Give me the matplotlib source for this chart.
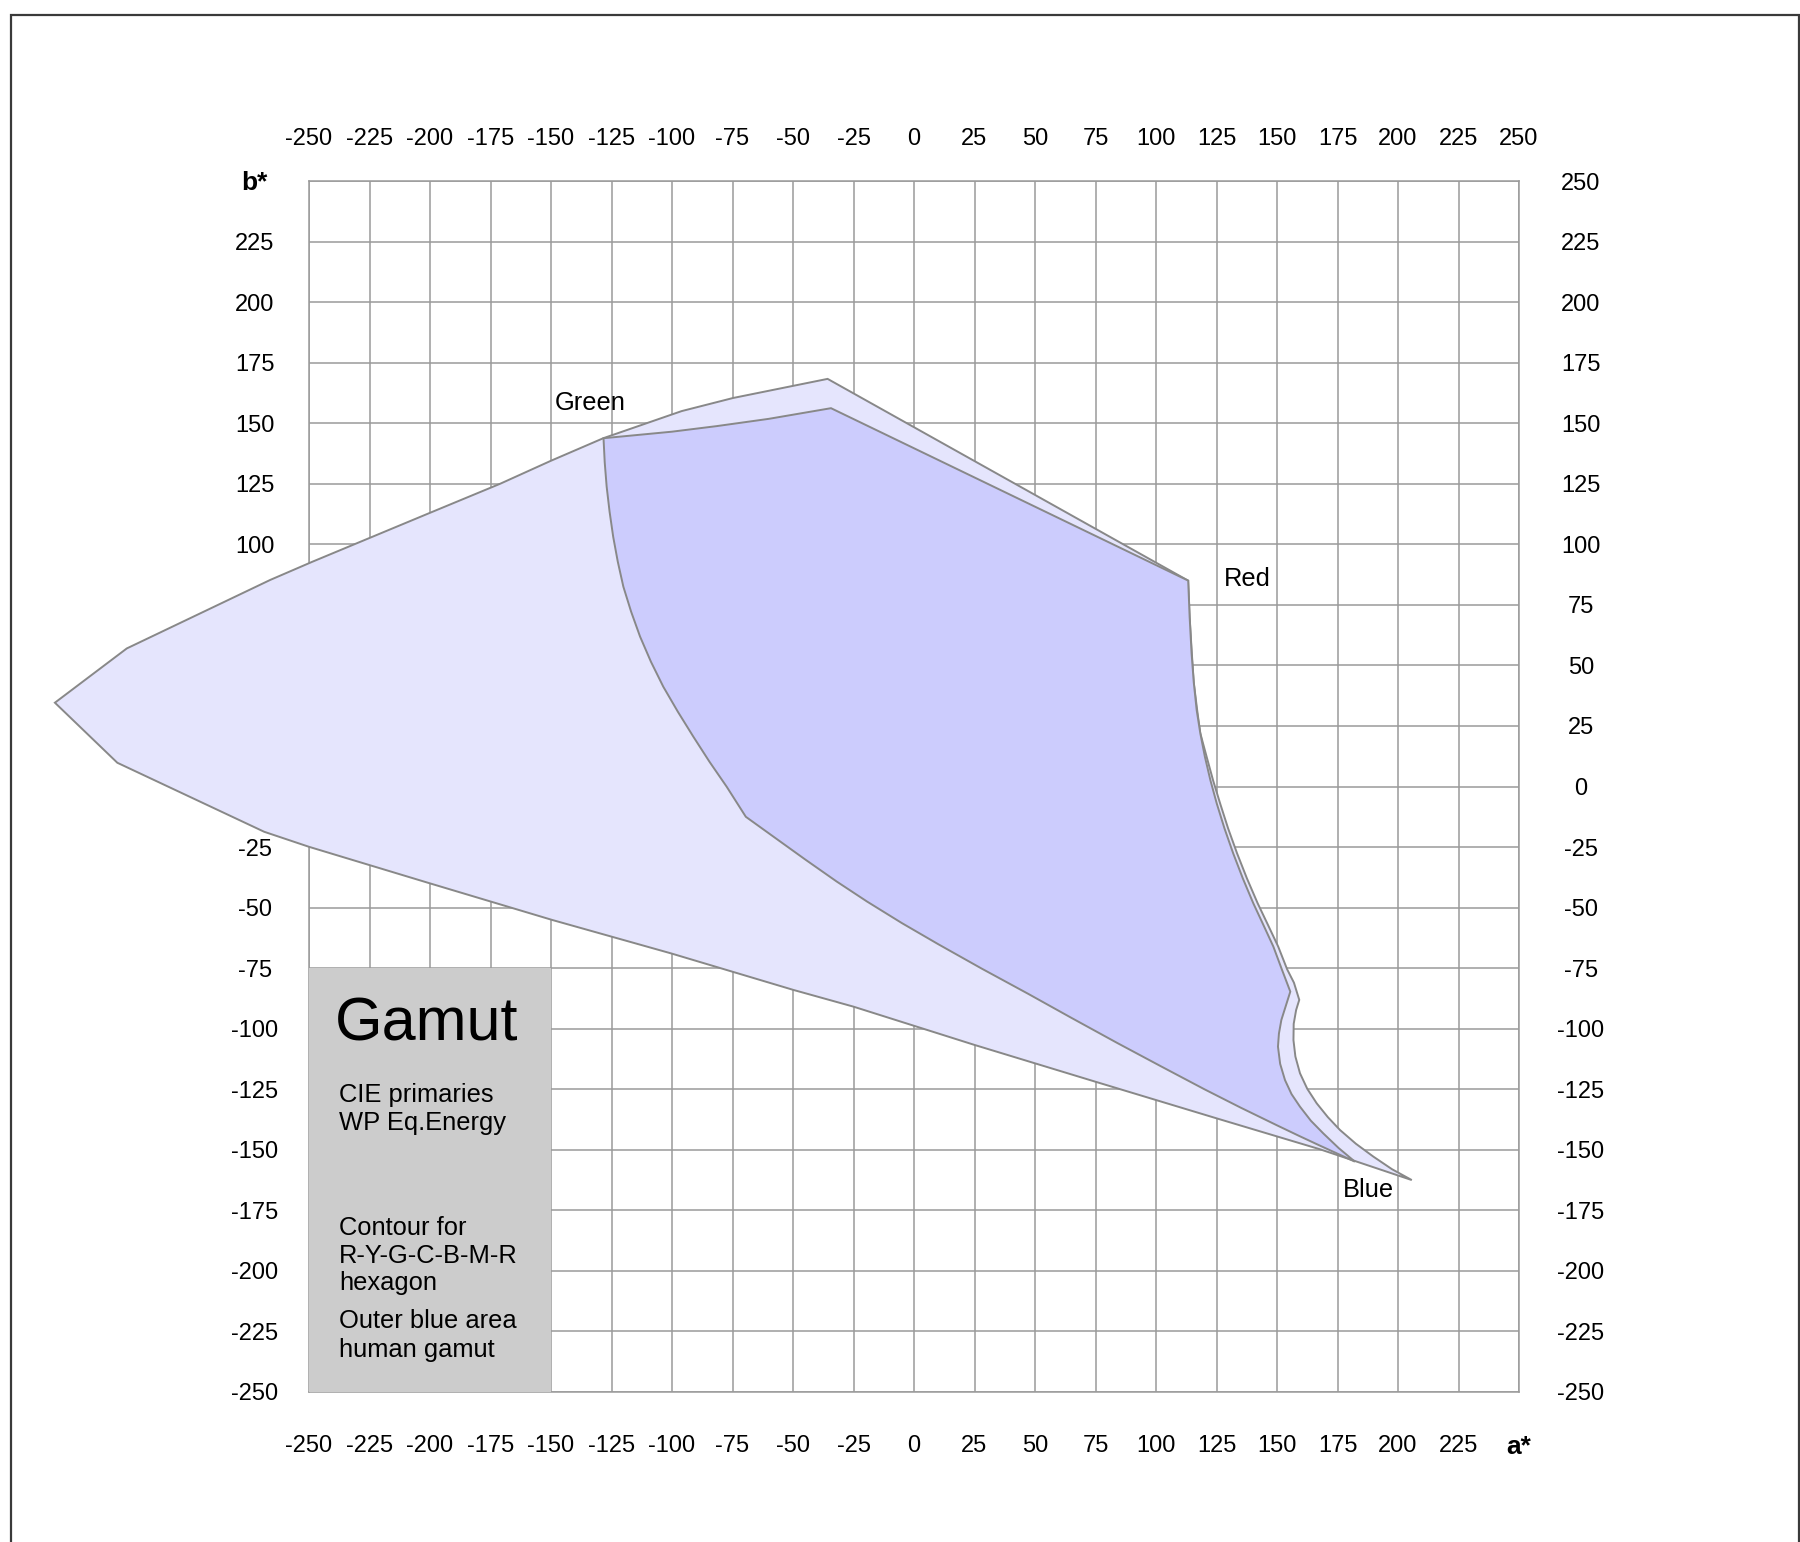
import matplotlib.pyplot as plt
from matplotlib.patches import Polygon, Rectangle

plt.rcParams['font.family'] = ['Liberation Sans', 'DejaVu Sans']

ticks = list(range(-250, 251, 25))
tick_labels = [str(t) for t in ticks]

# human gamut outline (a*, b*)
outer_a = [205.7, 197.5, 189.8, 182.6, 176.0, 171.0, 166.4, 162.5, 159.5, 157.6,
           156.8, 156.9, 157.9, 159.2, 157.0, 154.2, 150.5, 146.2, 142.0, 137.6,
           133.5, 129.8, 126.5, 123.6, 121.0, 118.3, 117.0, 115.6, 114.8, 113.9,
           113.3, -35.7, -74.8, -96.0, -128.4, -150.0, -171.0, -200.0, -248.6, -266.0,
           -325.3, -355.0, -329.2, -268.5, -250.0, -200.0, -149.5, -100.4, -49.8, -25.0,
           25.0, 75.0, 125.0, 167.8]
outer_b = [-162.5, -158.0, -152.8, -147.5, -141.8, -136.5, -130.8, -124.8, -118.4, -111.5,
           -104.7, -98.0, -92.3, -88.1, -81.0, -75.5, -66.1, -57.0, -48.2, -38.0,
           -27.6, -17.3, -7.0, 2.5, 12.0, 22.0, 31.6, 43.0, 55.0, 70.0,
           85.0, 168.3, 160.4, 155.0, 143.8, 134.5, 125.0, 113.0, 92.8, 85.3,
           57.0, 34.6, 9.8, -18.7, -24.9, -40.0, -55.1, -68.9, -84.0, -90.9,
           -106.7, -121.9, -137.0, -149.8]

# contour of the R-Y-G-C-B-M-R hexagon
inner_a = [-128.3, -100.0, -81.5, -60.0, -34.3, 113.3, 113.9, 114.7, 115.6, 116.8,
           118.3, 120.2, 122.5, 125.1, 128.3, 131.9, 135.9, 140.2, 144.3, 148.5,
           152.0, 155.5, 151.8, 150.8, 150.4, 151.3, 153.3, 156.0, 159.5, 164.0,
           169.1, 175.5, 182.2, 175.0, 168.0, 159.0, 150.0, 135.0, 120.0, 102.0,
           84.0, 65.0, 47.0, 28.0, 10.0, -5.0, -19.4, -32.0, -45.0, -56.7,
           -69.5, -77.4, -84.5, -91.2, -97.6, -103.6, -108.7, -113.2, -116.9, -120.1,
           -122.4, -124.3, -125.8, -127.0, -127.8]
inner_b = [143.8, 146.5, 148.8, 151.8, 156.2, 85.0, 70.0, 55.0, 43.0, 31.6,
           22.0, 12.3, 2.5, -7.0, -17.3, -27.6, -38.0, -48.2, -57.0, -66.1,
           -75.5, -84.7, -96.4, -102.0, -107.4, -114.5, -121.2, -127.0, -132.2, -138.0,
           -143.2, -149.3, -154.9, -151.6, -148.4, -144.2, -139.9, -132.6, -125.0, -115.5,
           -105.9, -95.5, -85.5, -75.2, -65.1, -56.4, -47.5, -39.2, -30.1, -21.7,
           -12.5, -0.1, 10.2, 20.6, 30.9, 41.2, 51.5, 61.9, 72.2, 82.5,
           92.8, 103.1, 113.5, 123.8, 133.8]

corner_names = ["Green", "Red", "Blue"]
corner_a = [-148.3, 128.1, 177.4]
corner_b = [155.5, 82.8, -169.4]

box_a = [-250, -150]
box_b = [-250, -75]
notes = ["CIE primaries", "WP Eq.Energy", "Contour for", "R-Y-G-C-B-M-R",
         "hexagon", "Outer blue area", "human gamut"]
notes_b = [-130.1, -141.8, -185.2, -196.9, -207.9, -223.7, -235.4]

fig = plt.figure(figsize=(18, 15.42), dpi=100)
ax = fig.add_axes([309 / 1800, 1 - 1392 / 1542, 1210 / 1800, 1211 / 1542])

# cadre autour de la page
fig.patches.append(Rectangle((11 / 1800, -0.05), 1788 / 1800, 1 - 15 / 1542 + 0.05,
                             transform=fig.transFigure, fill=False,
                             ec='#3a3a3a', lw=1.6))

ax.set_xlim(-250, 250)
ax.set_ylim(-250, 250)
ax.set_xticks(ticks)
ax.set_yticks(ticks)
ax.grid(True, color='#9a9a9a', lw=1.1)
ax.set_axisbelow(True)
for s in ax.spines.values():
    s.set_color('#9a9a9a')
    s.set_linewidth(1.1)
    s.set_zorder(0.6)

ax.add_patch(Polygon(list(zip(outer_a, outer_b)), closed=True, fc='#e5e5fd',
                     ec='#888888', lw=1.4, clip_on=False, zorder=2))
ax.add_patch(Polygon(list(zip(inner_a, inner_b)), closed=True, fc='#ccccfd',
                     ec='#888888', lw=1.4, clip_on=False, zorder=3))

for name, a, b in zip(corner_names, corner_a, corner_b):
    ax.text(a, b, name, fontsize=18.4, ha='left', va='baseline', zorder=5)

# cartouche
ax.add_patch(Rectangle((box_a[0], box_b[0]), box_a[1] - box_a[0], box_b[1] - box_b[0],
                       fc='#cccccc', ec='none', zorder=4))
ax.text(-239.3, -104.9, "Gamut", fontsize=44, ha='left', va='baseline', zorder=5)
for txt, b in zip(notes, notes_b):
    ax.text(-237.5, b, txt, fontsize=18.4, ha='left', va='baseline', zorder=5)

# étiquettes des axes
bottom_labels = tick_labels[:-1] + ["a*"]
left_labels = tick_labels[:-1] + ["b*"]
ax.set_xticklabels(bottom_labels)
ax.set_yticklabels(left_labels)
ax.tick_params(axis='x', length=0, pad=31, labelsize=17)
ax.tick_params(axis='y', length=0, pad=39, labelsize=17)
for t in ax.get_yticklabels():
    t.set_horizontalalignment('center')
xl = ax.get_xticklabels()[-1]
xl.set_fontweight('bold')
xl.set_fontsize(19)
yl = ax.get_yticklabels()[-1]
yl.set_fontweight('bold')
yl.set_fontsize(19)

top = ax.secondary_xaxis('top')
top.set_xticks(ticks)
top.set_xticklabels(tick_labels)
top.tick_params(length=0, pad=22.5, labelsize=17)
right = ax.secondary_yaxis('right')
right.set_yticks(ticks)
right.set_yticklabels(tick_labels)
right.tick_params(length=0, pad=44.6, labelsize=17)
for t in right.get_yticklabels():
    t.set_horizontalalignment('center')
for sec in (top, right):
    for s in sec.spines.values():
        s.set_visible(False)

fig.savefig("out.png", dpi=100)
